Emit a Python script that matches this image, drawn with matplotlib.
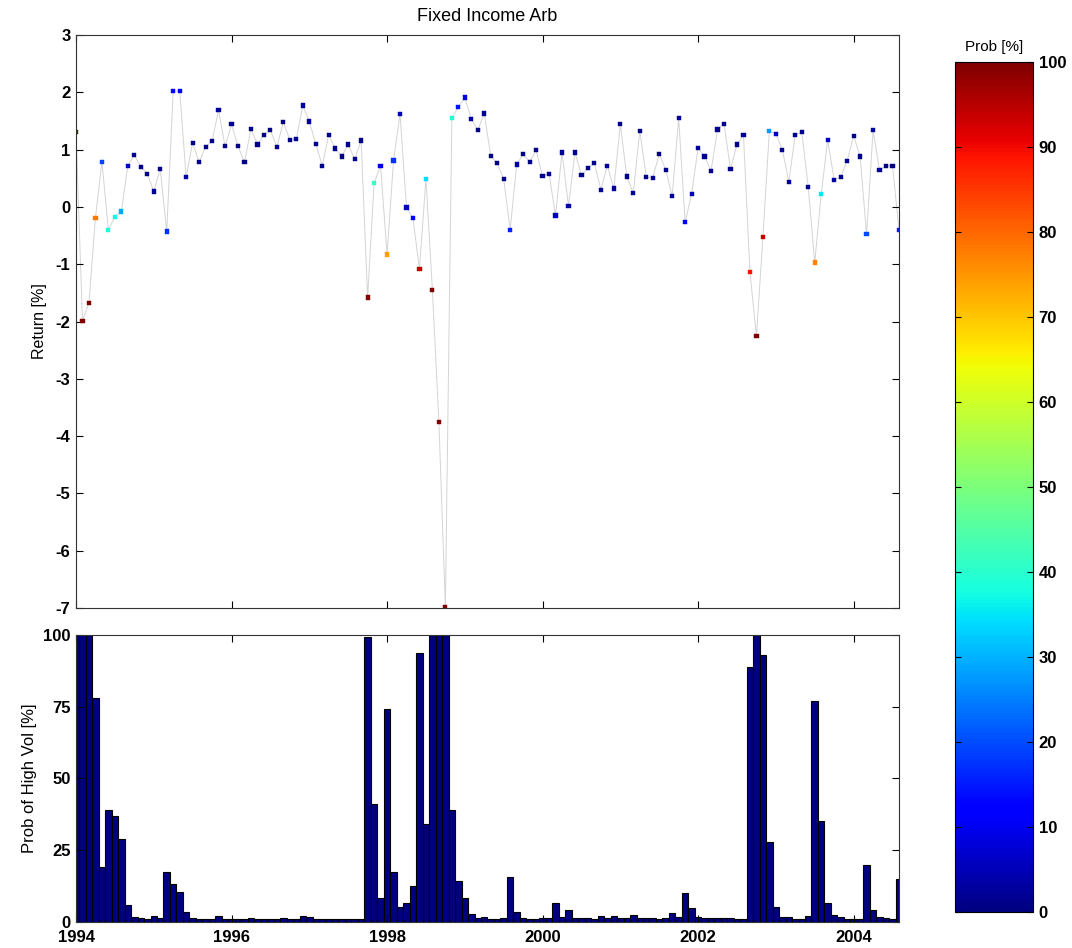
import numpy as np
import matplotlib
matplotlib.use("Agg")
import matplotlib.pyplot as plt
from matplotlib.colors import Normalize

# ── Data: monthly returns and prob of high-vol regime, Jan 1994 - Aug 2004 ────
start_year = 1994
returns = [
    1.31, -1.99, -1.67, -0.19, 0.79, -0.40, -0.17, -0.08, 0.72, 0.90, 0.70, 0.58,
    0.27, 0.66, -0.43, 2.02, 2.02, 0.52, 1.12, 0.78, 1.05, 1.15, 1.69, 1.06,
    1.44, 1.06, 0.78, 1.36, 1.09, 1.26, 1.34, 1.05, 1.48, 1.17, 1.18, 1.77,
    1.49, 1.10, 0.72, 1.26, 1.02, 0.88, 1.09, 0.83, 1.16, -1.58, 0.41, 0.72,
    -0.83, 0.81, 1.62, -0.01, -0.20, -1.08, 0.49, -1.45, -3.75, -6.98, 1.55, 1.74,
    1.91, 1.53, 1.34, 1.63, 0.89, 0.76, 0.49, -0.40, 0.74, 0.92, 0.78, 0.99,
    0.54, 0.58, -0.15, 0.95, 0.02, 0.95, 0.55, 0.68, 0.76, 0.30, 0.72, 0.32,
    1.44, 0.53, 0.24, 1.33, 0.52, 0.51, 0.92, 0.65, 0.19, 1.55, -0.27, 0.23,
    1.03, 0.88, 0.63, 1.35, 1.45, 0.66, 1.09, 1.25, -1.13, -2.26, -0.53, 1.33,
    1.27, 1.00, 0.44, 1.26, 1.30, 0.35, -0.97, 0.22, 1.17, 0.47, 0.52, 0.80,
    1.24, 0.88, -0.48, 1.34, 0.64, 0.72, 0.72, -0.40,
]
prob_high_vol = [
    100, 100, 100, 78, 19.3, 39, 37, 29, 6.0, 1.9, 1.4, 1.2,
    2.1, 1.4, 17.4, 13.1, 10.5, 3.4, 1.4, 0.9, 0.9, 0.9, 2.2, 1.2,
    1.2, 0.9, 0.9, 1.5, 0.9, 0.9, 0.9, 1.0, 1.4, 0.9, 0.9, 2.2,
    1.7, 0.9, 0.9, 0.9, 0.9, 0.9, 0.9, 0.9, 0.9, 99.4, 41.2, 8.4,
    74.1, 17.4, 5.2, 6.5, 12.7, 93.8, 34.3, 100, 100, 100, 38.9, 14.3,
    8.5, 2.9, 1.5, 1.9, 0.9, 0.9, 1.4, 15.8, 3.4, 1.4, 0.9, 1.0,
    1.4, 1.4, 6.5, 1.7, 4.2, 1.4, 1.4, 1.4, 0.9, 2.2, 1.4, 2.2,
    1.4, 1.4, 2.6, 1.4, 1.4, 1.4, 0.9, 1.4, 3.0, 1.9, 10.0, 4.9,
    1.9, 1.4, 1.4, 1.4, 1.4, 1.4, 0.9, 0.9, 88.9, 100, 93.1, 28.0,
    5.2, 1.9, 1.9, 0.9, 0.9, 2.2, 77.0, 35.3, 6.5, 2.6, 1.9, 1.0,
    1.0, 0.9, 19.7, 4.2, 1.9, 1.5, 1.0, 15.1,
]
year_ticks = [1994, 1996, 1998, 2000, 2002, 2004]
return_ticks = [-7, -6, -5, -4, -3, -2, -1, 0, 1, 2, 3]
prob_ticks = [0, 25, 50, 75, 100]
cbar_ticks = list(range(0, 101, 10))

t = start_year + np.arange(len(returns)) / 12.0
ret = np.array(returns)
prob = np.array(prob_high_vol)

plt.rcParams["font.family"] = ["Liberation Sans", "DejaVu Sans"]
cmap = matplotlib.colormaps["jet"]
norm = Normalize(0, 100)

fig = plt.figure(figsize=(10.72, 9.48), dpi=100)
ax1 = fig.add_axes([0.0709, 0.3586, 0.7677, 0.6045])
ax2 = fig.add_axes([0.0709, 0.0274, 0.7677, 0.3028])
cax = fig.add_axes([0.8909, 0.0380, 0.0728, 0.8966])

tick_font = dict(fontsize=12, fontweight="bold")

# ── Top: returns coloured by probability ──────────────────────────────────────
ax1.plot(t, ret, color="#d4d4d4", lw=0.7, zorder=1)
ax1.scatter(t, ret, c=prob, cmap=cmap, norm=norm, s=9, marker="s",
            linewidths=0.3, edgecolors="face", zorder=2)
ax1.set_xlim(t[0], t[-1])
ax1.set_ylim(-7, 3)
ax1.set_yticks(return_ticks)
ax1.set_yticklabels([str(v) for v in return_ticks], **tick_font)
ax1.set_xticks(year_ticks)
ax1.set_xticklabels([])
ax1.set_ylabel("Return [%]", fontsize=11.5, labelpad=6)
ax1.set_title("Fixed Income Arb", fontsize=13, pad=10)

# ── Bottom: probability of high vol ───────────────────────────────────────────
ax2.bar(t, prob, width=1 / 12.0, color="#000080", edgecolor="black",
        linewidth=0.8, align="center")
ax2.set_xlim(t[0], t[-1])
ax2.set_ylim(0, 100)
ax2.set_yticks(prob_ticks)
ax2.set_yticklabels([str(v) for v in prob_ticks], **tick_font)
ax2.set_xticks(year_ticks)
ax2.set_xticklabels([str(v) for v in year_ticks], **tick_font)
ax2.set_ylabel("Prob of High Vol [%]", fontsize=12, labelpad=4)

for ax in (ax1, ax2):
    ax.tick_params(direction="in", top=True, right=True, length=5, width=0.8, pad=4)
    for s in ax.spines.values():
        s.set_linewidth(0.8)
        s.set_color("#333333")
ax2.tick_params(axis="x", pad=6)

# ── Colorbar ──────────────────────────────────────────────────────────────────
sm = plt.cm.ScalarMappable(cmap=cmap, norm=norm)
cb = fig.colorbar(sm, cax=cax, ticks=cbar_ticks)
cb.ax.set_yticklabels([str(v) for v in cbar_ticks], **tick_font)
cb.ax.tick_params(direction="in", left=True, right=True, length=4, width=0.8, pad=4)
cb.outline.set_linewidth(0.8)
cb.ax.set_title("Prob [%]", fontsize=11, pad=8)

fig.savefig("out.png", dpi=100)
